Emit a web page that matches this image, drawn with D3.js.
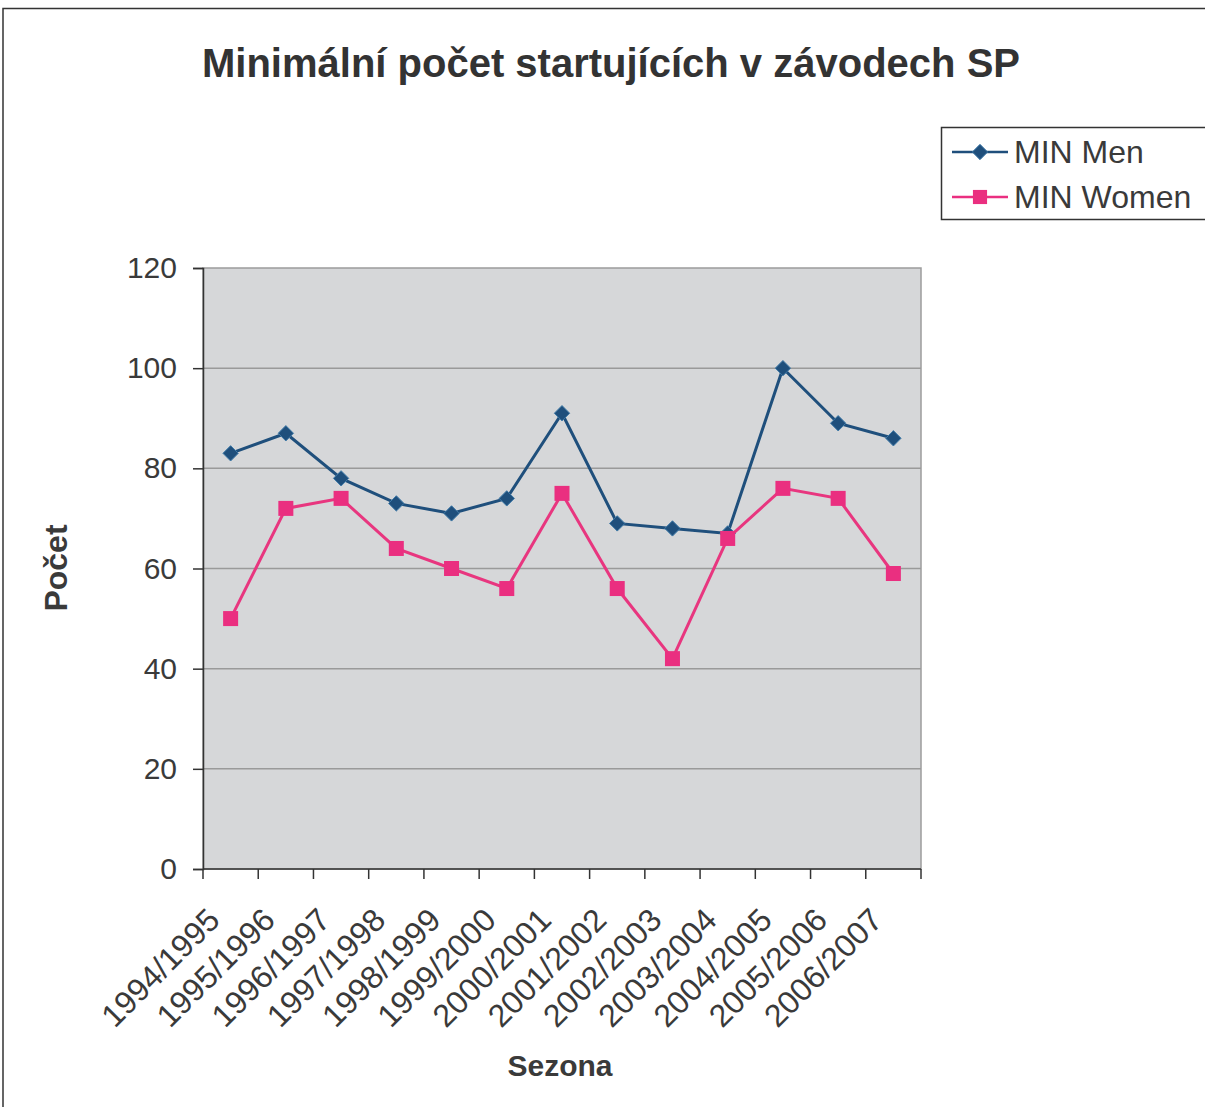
<!DOCTYPE html>
<html>
<head>
<meta charset="utf-8">
<script src="https://cdn.jsdelivr.net/npm/d3@7"></script>
<style>
  body { margin: 0; background: #fff; }
  svg text { font-family: "Liberation Sans", Arial, sans-serif; fill: #3a3a3a; }
</style>
</head>
<body>
<svg id="chart" width="1205" height="1107"></svg>
<script>
// seasons on the x axis
const seasons = ["1994/1995", "1995/1996", "1996/1997", "1997/1998", "1998/1999", "1999/2000",
  "2000/2001", "2001/2002", "2002/2003", "2003/2004", "2004/2005", "2005/2006", "2006/2007"];
const minMen = [83, 87, 78, 73, 71, 74, 91, 69, 68, 67, 100, 89, 86];
const minWomen = [50, 72, 74, 64, 60, 56, 75, 56, 42, 66, 76, 74, 59];
const yTicks = [0, 20, 40, 60, 80, 100, 120];

const svg = d3.select("#chart");

// outer frame
svg.append("path")
  .attr("d", "M3,1107 V8.5 H1205")
  .attr("fill", "none")
  .attr("stroke", "#333")
  .attr("stroke-width", 1.5);

const margin = { left: 203, right: 921, top: 268, bottom: 869 };

const x = d3.scaleBand().domain(seasons).range([margin.left, margin.right]);
const y = d3.scaleLinear().domain([0, 120]).range([margin.bottom, margin.top]);

// plot area
svg.append("rect")
  .attr("x", margin.left).attr("y", margin.top)
  .attr("width", margin.right - margin.left)
  .attr("height", margin.bottom - margin.top)
  .attr("fill", "#d6d7d9")
  .attr("stroke", "#9c9c9c")
  .attr("stroke-width", 1.5);

// gridlines
svg.append("g")
  .selectAll("line")
  .data(yTicks.filter(d => d > 0 && d < 120))
  .join("line")
  .attr("x1", margin.left).attr("x2", margin.right)
  .attr("y1", d => y(d)).attr("y2", d => y(d))
  .attr("stroke", "#9a9a9a")
  .attr("stroke-width", 1.5);

// y axis
const yAxis = svg.append("g")
  .attr("transform", `translate(${margin.left},0)`)
  .call(d3.axisLeft(y).tickValues(yTicks).tickSize(10).tickPadding(16));
yAxis.select(".domain").attr("stroke", "#333").attr("stroke-width", 1.5);
yAxis.selectAll(".tick line").attr("stroke", "#333").attr("stroke-width", 1.5);
yAxis.selectAll(".tick text")
  .style("font-size", "30px")
  .attr("fill", "#3a3a3a");

// x axis: ticks at band boundaries
const xAxis = svg.append("g")
  .attr("transform", `translate(0,${margin.bottom})`);
xAxis.append("line")
  .attr("x1", margin.left).attr("x2", margin.right)
  .attr("stroke", "#333").attr("stroke-width", 1.5);
const bounds = seasons.map(s => x(s)).concat([margin.right]);
xAxis.selectAll("line.tk")
  .data(bounds)
  .join("line")
  .attr("class", "tk")
  .attr("x1", d => d).attr("x2", d => d)
  .attr("y1", 0).attr("y2", 10)
  .attr("stroke", "#333").attr("stroke-width", 1.5);
xAxis.selectAll("text")
  .data(seasons)
  .join("text")
  .attr("text-anchor", "end")
  .attr("transform", d => `translate(${x(d) + x.bandwidth() / 2 - 9},${53}) rotate(-45)`)
  .style("font-size", "32px")
  .text(d => d);

// lines
const cx = (d, i) => x(seasons[i]) + x.bandwidth() / 2;
const line = d3.line().x(cx).y(d => y(d));

svg.append("path")
  .datum(minWomen)
  .attr("d", line)
  .attr("fill", "none")
  .attr("stroke", "#e8367f")
  .attr("stroke-width", 3);

svg.append("path")
  .datum(minMen)
  .attr("d", line)
  .attr("fill", "none")
  .attr("stroke", "#1f4f7c")
  .attr("stroke-width", 3);

const diamond = d3.symbol().type(d3.symbolDiamond2).size(150);

svg.append("g")
  .selectAll("path")
  .data(minMen)
  .join("path")
  .attr("d", diamond)
  .attr("transform", (d, i) => `translate(${cx(d, i)},${y(d)})`)
  .attr("fill", "#1f4f7c")
  .attr("stroke", "#3f7aa8")
  .attr("stroke-width", 1);

svg.append("g")
  .selectAll("rect")
  .data(minWomen)
  .join("rect")
  .attr("x", (d, i) => cx(d, i) - 7.5)
  .attr("y", d => y(d) - 7.5)
  .attr("width", 15).attr("height", 15)
  .attr("fill", "#ea2f80");

// titles
svg.append("text")
  .attr("x", 611).attr("y", 77)
  .attr("text-anchor", "middle")
  .style("font-size", "40px").style("font-weight", "bold")
  .style("fill", "#333")
  .text("Minimální počet startujících v závodech SP");

svg.append("text")
  .attr("x", 560).attr("y", 1076)
  .attr("text-anchor", "middle")
  .style("font-size", "30px").style("font-weight", "bold")
  .text("Sezona");

svg.append("text")
  .attr("transform", "translate(67,568) rotate(-90)")
  .attr("text-anchor", "middle")
  .style("font-size", "32px").style("font-weight", "bold")
  .text("Počet");

// legend
const legend = svg.append("g");
legend.append("rect")
  .attr("x", 941.5).attr("y", 127.5)
  .attr("width", 270).attr("height", 92)
  .attr("fill", "#fff").attr("stroke", "#333").attr("stroke-width", 1.5);

const legendItems = [
  { name: "MIN Men", color: "#1f4f7c", shape: "diamond" },
  { name: "MIN Women", color: "#ea2f80", shape: "square" }
];
const li = legend.selectAll("g.item")
  .data(legendItems)
  .join("g")
  .attr("class", "item")
  .attr("transform", (d, i) => `translate(952,${152 + i * 45})`);
li.append("line")
  .attr("x1", 0).attr("x2", 56)
  .attr("stroke", d => d.color).attr("stroke-width", 2.5);
li.append("path")
  .attr("d", d => d.shape === "diamond" ? diamond() : d3.symbol().type(d3.symbolSquare).size(200)())
  .attr("transform", "translate(28,0)")
  .attr("fill", d => d.color)
  .attr("stroke", d => d.shape === "diamond" ? "#3f7aa8" : "none");
li.append("text")
  .attr("x", 62).attr("y", 11)
  .style("font-size", "32px")
  .text(d => d.name);
</script>
</body>
</html>
